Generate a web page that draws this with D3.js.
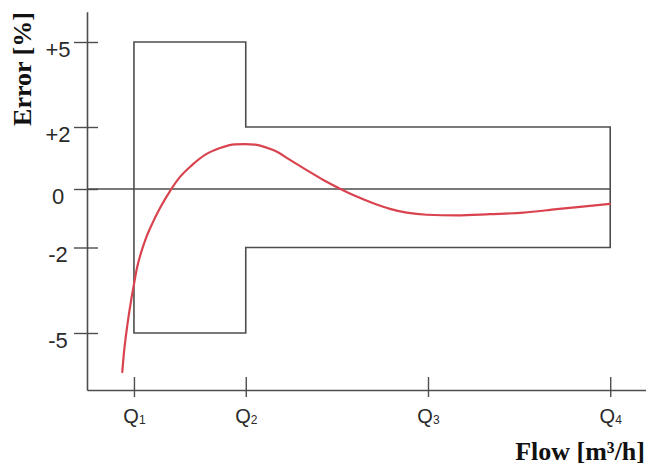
<!DOCTYPE html>
<html>
<head>
<meta charset="utf-8">
<script src="https://cdn.jsdelivr.net/npm/d3@7"></script>
<style>
  html, body { margin: 0; padding: 0; background: #fff; }
  svg { display: block; }
</style>
</head>
<body>
<div id="chart"></div>
<script>
// ---- data ----
const flowNames = ["Q1", "Q2", "Q3", "Q4"];
const flowValues = [8.4, 28.4, 61.0, 93.6];          // relative flow positions
const errorTicks = [5, 2, 0, -2, -5];
const errorTickLabels = ["+5", "+2", "0", "-2", "-5"];
// tolerance zones: [Q1,Q2] -> ±5 %, [Q2,Q4] -> ±2 %
const zoneStart = ["Q1", "Q2"];
const zoneEnd = ["Q2", "Q4"];
const upperLimit = [5, 2];
const lowerLimit = [-5, -2];
// measured error curve
const curveFlow = [6.31, 6.62, 6.98, 7.42, 7.87, 8.41, 8.94, 9.66, 10.55, 11.63, 13.06, 14.85, 16.64, 18.78, 21.11, 23.79, 26.48, 28.26, 30.05, 31.84, 33.63, 36.31, 39.30, 42.27, 45.26, 48.25, 51.22, 54.20, 57.19, 60.77, 66.14, 72.09, 78.05, 84.03, 88.19, 93.56];
const curveError = [-6.37, -5.67, -5.07, -4.44, -3.88, -3.28, -2.72, -2.19, -1.68, -1.20, -0.65, -0.07, 0.39, 0.77, 1.10, 1.32, 1.44, 1.45, 1.43, 1.35, 1.23, 0.94, 0.61, 0.29, 0.01, -0.26, -0.49, -0.68, -0.81, -0.88, -0.90, -0.86, -0.81, -0.69, -0.61, -0.51];
const xTitle = "Flow [m³/h]";
const yTitle = "Error [%]";

// ---- layout ----
const W = 646, H = 469;
const lineColor = "#4d4d4d";
const svg = d3.select("#chart").append("svg").attr("width", W).attr("height", H);

const x = d3.scaleLinear().domain([0, 100]).range([87, 646]);
const y = d3.scaleLinear()
  .domain([-7, -5, -2, 0, 2, 5, 6.07])
  .range([390, 333, 247.5, 189, 127, 42, 11.7]);
const qx = name => x(flowValues[flowNames.indexOf(name)]);

// y axis
const yAxis = svg.append("g").attr("transform", `translate(${x(0)},0)`)
  .call(d3.axisLeft(y).tickValues(errorTicks)
    .tickFormat((d, i) => errorTickLabels[i]).tickSize(13).tickSizeOuter(0));
yAxis.select(".domain").attr("stroke", lineColor).attr("stroke-width", 1.6);
yAxis.selectAll(".tick line").attr("x1", -13).attr("x2", 11)
  .attr("stroke", lineColor).attr("stroke-width", 1.4);
yAxis.selectAll(".tick text")
  .attr("x", -29).attr("dy", null).attr("y", 14)
  .attr("text-anchor", "middle")
  .attr("font-family", "Liberation Sans, Arial, sans-serif")
  .attr("font-size", 22).attr("fill", "#2a2a2a");

// x axis
const xAxis = svg.append("g").attr("transform", `translate(0,${y(-7)})`)
  .call(d3.axisBottom(x).tickValues(flowValues).tickSize(7).tickSizeOuter(0));
xAxis.select(".domain").attr("stroke", lineColor).attr("stroke-width", 1.6);
xAxis.selectAll(".tick line").attr("y1", -13).attr("y2", 7)
  .attr("stroke", lineColor).attr("stroke-width", 1.4);
xAxis.selectAll(".tick text").each(function(d, i) {
  const t = d3.select(this);
  t.text(null).attr("dy", null).attr("y", 33)
    .attr("text-anchor", "middle")
    .attr("font-family", "Liberation Sans, Arial, sans-serif")
    .attr("fill", "#2a2a2a");
  const nm = flowNames[i];
  t.append("tspan").attr("font-size", 20).text(nm.charAt(0));
  t.append("tspan").attr("font-size", 12).attr("dy", 1).text(nm.slice(1));
});

// tolerance envelope
const env = [];
zoneStart.forEach((z, i) => {
  env.push([qx(z), y(upperLimit[i])]);
  env.push([qx(zoneEnd[i]), y(upperLimit[i])]);
});
for (let i = zoneStart.length - 1; i >= 0; i--) {
  env.push([qx(zoneEnd[i]), y(lowerLimit[i])]);
  env.push([qx(zoneStart[i]), y(lowerLimit[i])]);
}
svg.append("path")
  .attr("d", d3.line()(env) + "Z")
  .attr("fill", "none").attr("stroke", lineColor).attr("stroke-width", 1.6);

// zero line
svg.append("line")
  .attr("x1", x(0)).attr("x2", qx("Q4"))
  .attr("y1", y(0)).attr("y2", y(0))
  .attr("stroke", lineColor).attr("stroke-width", 1.6);

// error curve
const pts = curveFlow.map((f, i) => [x(f), y(curveError[i])]);
svg.append("path")
  .attr("d", d3.line().curve(d3.curveMonotoneX)(pts))
  .attr("fill", "none").attr("stroke", "#d9434f").attr("stroke-width", 2.2)
  .attr("stroke-linecap", "round");

// titles
svg.append("text")
  .attr("x", 645).attr("y", 460)
  .attr("text-anchor", "end")
  .attr("font-family", "Liberation Serif, Times New Roman, serif")
  .attr("font-weight", "bold").attr("font-size", 26).attr("fill", "#111")
  .text(xTitle);
svg.append("text")
  .attr("transform", "translate(31,69) rotate(-90)")
  .attr("text-anchor", "middle")
  .attr("font-family", "Liberation Serif, Times New Roman, serif")
  .attr("font-weight", "bold").attr("font-size", 26).attr("fill", "#111")
  .text(yTitle);
</script>
</body>
</html>
